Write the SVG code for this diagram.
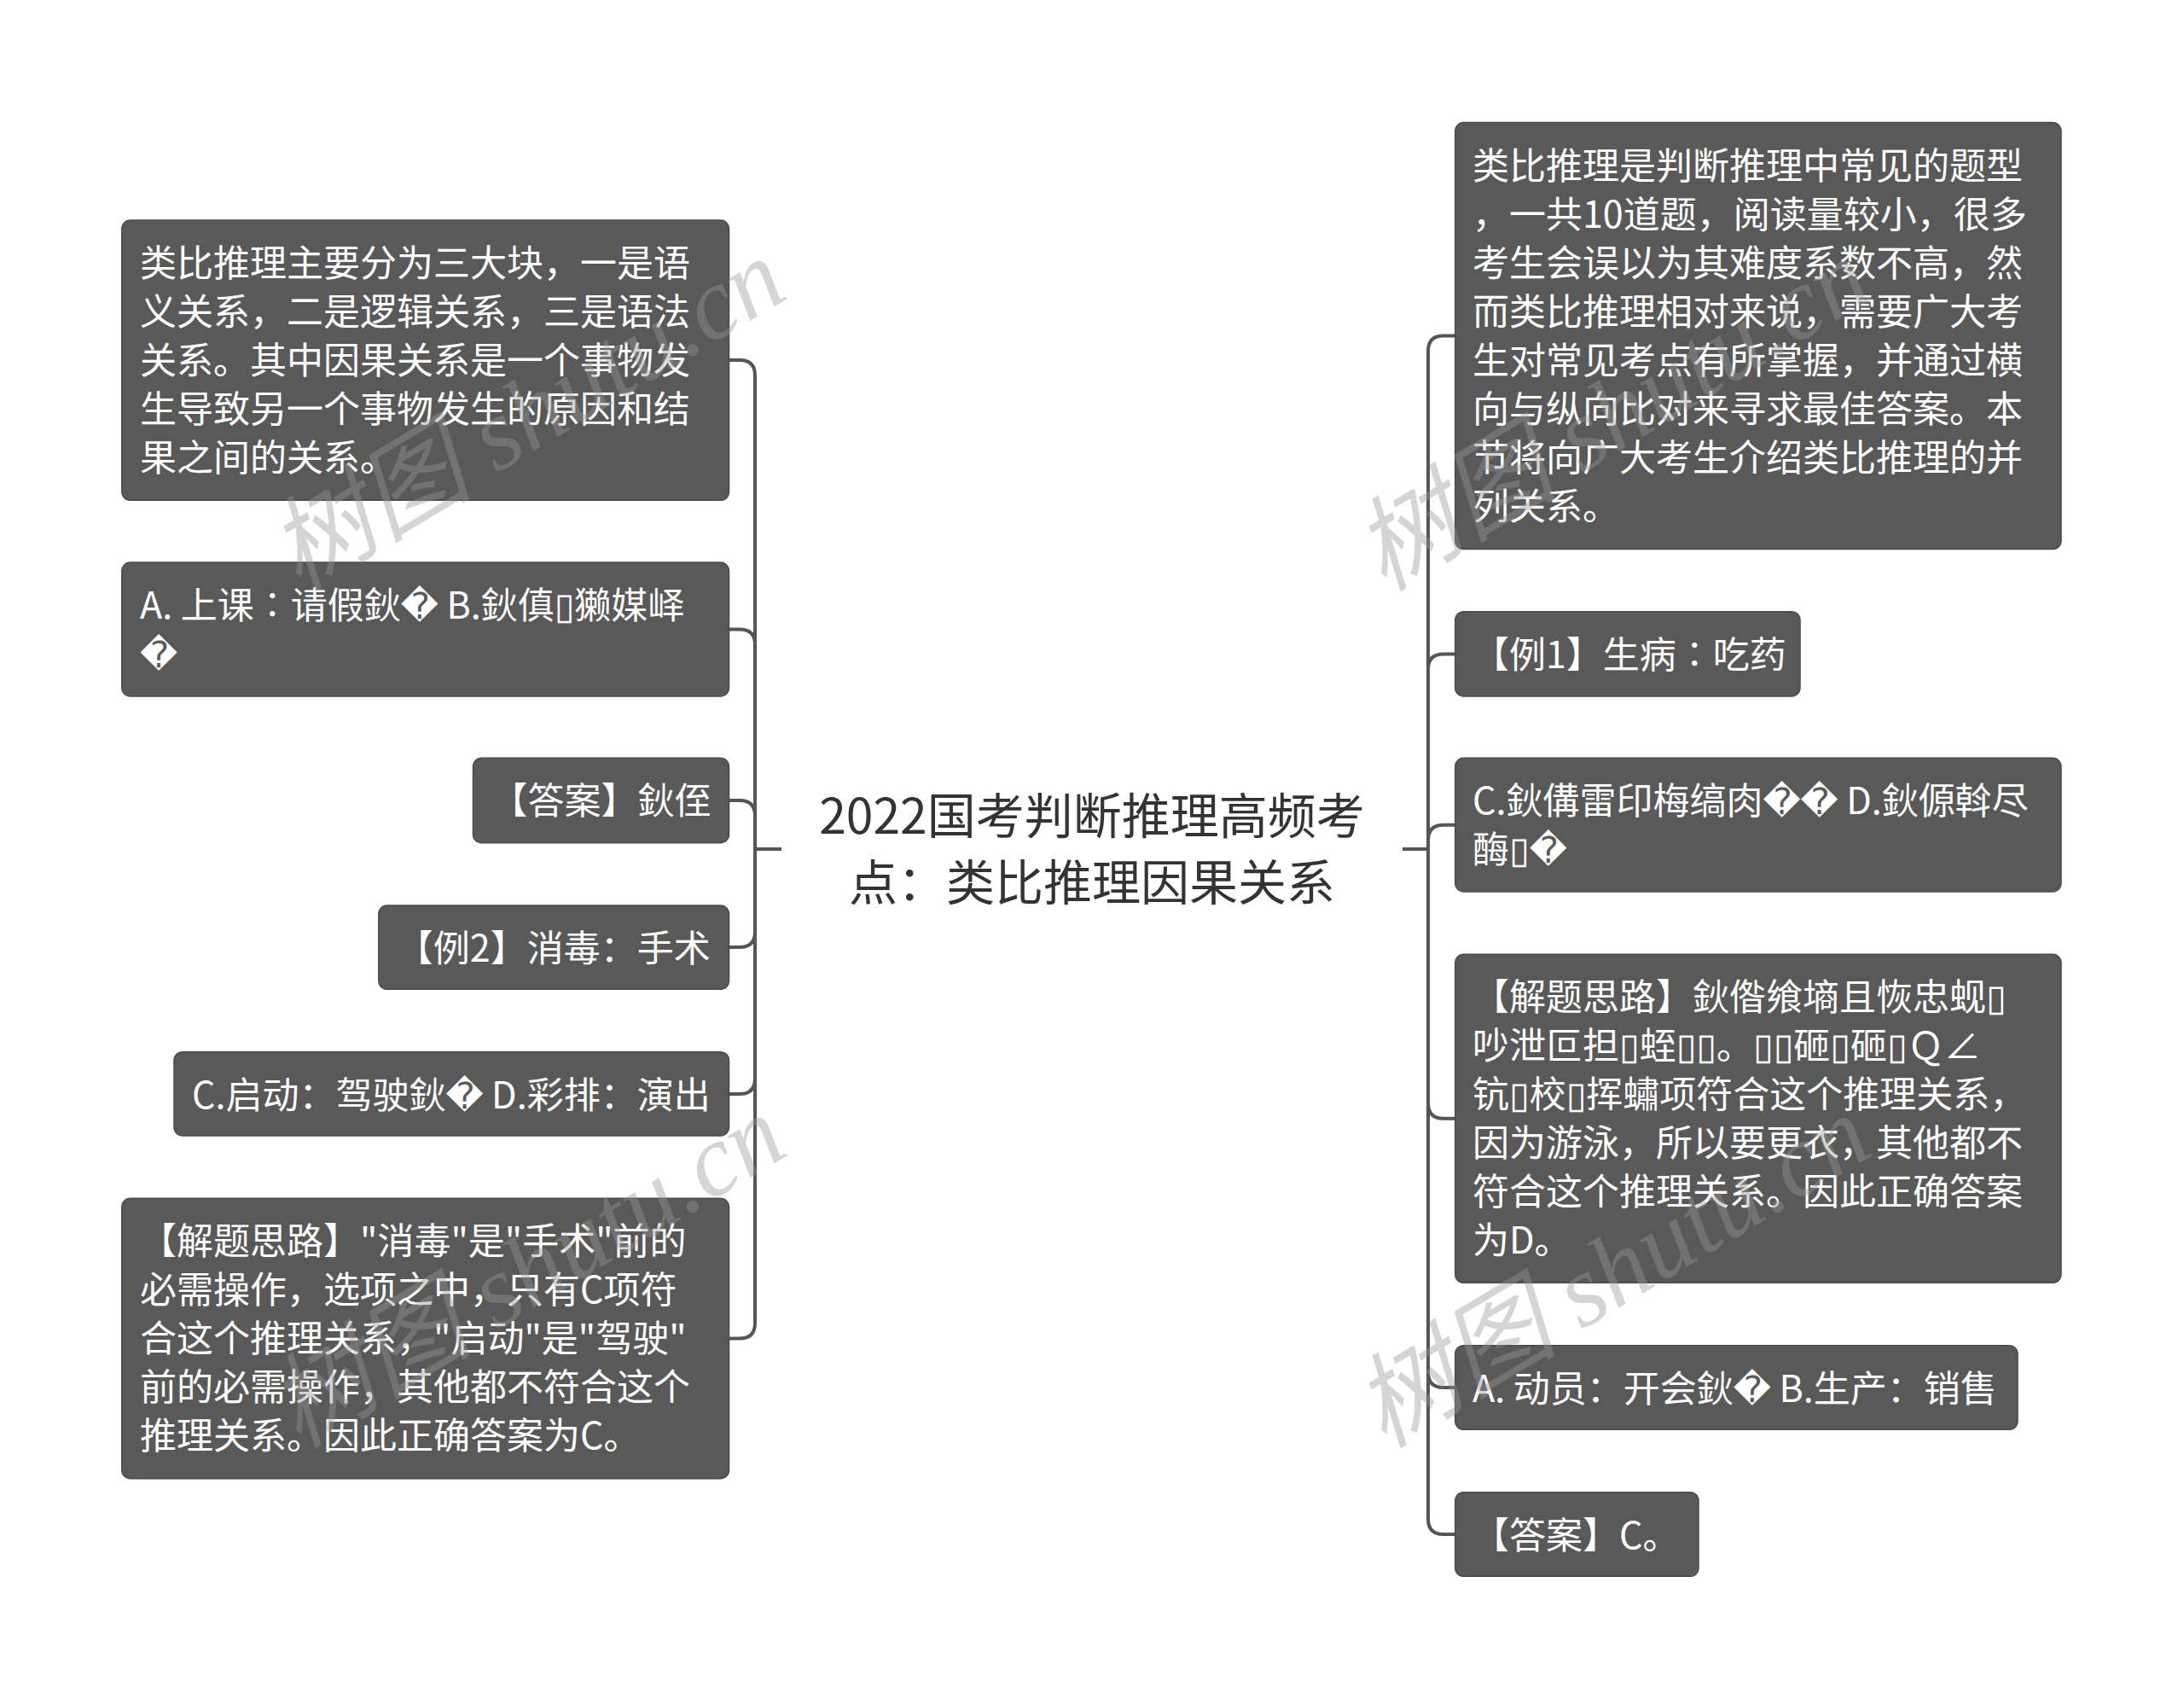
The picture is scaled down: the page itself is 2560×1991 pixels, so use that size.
<svg xmlns="http://www.w3.org/2000/svg" width="2560" height="1991" viewBox="0 0 2560 1991">
<style>
.bg{fill:#ffffff}
.node rect{fill:#595959;stroke:#4b4b4b;stroke-width:1.5}
.node text{fill:#ffffff;font-family:"Noto Sans CJK SC","Liberation Sans","DejaVu Sans",sans-serif;font-size:43px}
.topic text{fill:#333333;font-family:"Noto Sans CJK SC","Liberation Sans",sans-serif;font-size:57px;text-anchor:middle}
.conn path{fill:none;stroke:#555555;stroke-width:4;stroke-linecap:butt}
.wm text{fill:#999999;opacity:0.4;font-family:"Liberation Serif","Noto Sans CJK SC",serif;font-size:120px;font-style:italic}
</style>
<rect class="bg" x="0" y="0" width="2560" height="1991"/>

<g id="connectors" class="conn">
  <path d="M916 995 H885"/>
  <path d="M885 995 V440 Q885 422 867 422 H854.5"/>
  <path d="M885 995 V755.5 Q885 737.5 867 737.5 H854.5"/>
  <path d="M885 995 V956 Q885 938 867 938 H854.5"/>
  <path d="M885 995 V1092 Q885 1110 867 1110 H854.5"/>
  <path d="M885 995 V1264 Q885 1282 867 1282 H854.5"/>
  <path d="M885 995 V1550.5 Q885 1568.5 867 1568.5 H854.5"/>
  <path d="M1644 995 H1674"/>
  <path d="M1674 995 V411.6 Q1674 393.6 1692 393.6 H1705.7"/>
  <path d="M1674 995 V784.4 Q1674 766.4 1692 766.4 H1705.7"/>
  <path d="M1674 995 V984.7 Q1674 966.7 1692 966.7 H1705.7"/>
  <path d="M1674 995 V1292.8 Q1674 1310.8 1692 1310.8 H1705.7"/>
  <path d="M1674 995 V1608 Q1674 1626 1692 1626 H1705.7"/>
  <path d="M1674 995 V1780 Q1674 1798 1692 1798 H1705.7"/>
</g>

<g id="topic" class="topic">
  <text x="1280" y="977">2022国考判断推理高频考</text>
  <text x="1280" y="1055">点：类比推理因果关系</text>
</g>

<g id="left-1" class="node">
  <rect x="142.8" y="258" width="711.7" height="328.3" rx="10"/>
  <text x="164" y="324">类比推理主要分为三大块，一是语</text>
  <text x="164" y="381">义关系，二是逻辑关系，三是语法</text>
  <text x="164" y="438">关系。其中因果关系是一个事物发</text>
  <text x="164" y="495">生导致另一个事物发生的原因和结</text>
  <text x="164" y="552">果之间的关系。</text>
</g>
<g id="left-2" class="node">
  <rect x="142.8" y="659" width="711.7" height="157" rx="10"/>
  <text x="164" y="725">A. 上课∶请假鈥� B.鈥傎▯獭媒峄</text>
  <text x="164" y="782">�</text>
</g>
<g id="left-3" class="node">
  <rect x="554.5" y="888.3" width="300" height="99.4" rx="10"/>
  <text x="575.5" y="954.3">【答案】鈥侄</text>
</g>
<g id="left-4" class="node">
  <rect x="443.8" y="1061" width="410.7" height="98.3" rx="10"/>
  <text x="464.8" y="1127">【例2】消毒：手术</text>
</g>
<g id="left-5" class="node">
  <rect x="204" y="1232.7" width="650.5" height="98.3" rx="10"/>
  <text x="225" y="1298.7">C.启动：驾驶鈥� D.彩排：演出</text>
</g>
<g id="left-6" class="node">
  <rect x="142.8" y="1404.3" width="711.7" height="328.4" rx="10"/>
  <text x="164" y="1470.3">【解题思路】"消毒"是"手术"前的</text>
  <text x="164" y="1527.3">必需操作，选项之中，只有C项符</text>
  <text x="164" y="1584.3">合这个推理关系，"启动"是"驾驶"</text>
  <text x="164" y="1641.3">前的必需操作，其他都不符合这个</text>
  <text x="164" y="1698.3">推理关系。因此正确答案为C。</text>
</g>

<g id="right-1" class="node">
  <rect x="1705.7" y="143.6" width="710.3" height="500" rx="10"/>
  <text x="1726" y="209.6">类比推理是判断推理中常见的题型</text>
  <text x="1726" y="266.6">，一共10道题，阅读量较小，很多</text>
  <text x="1726" y="323.6">考生会误以为其难度系数不高，然</text>
  <text x="1726" y="380.6">而类比推理相对来说，需要广大考</text>
  <text x="1726" y="437.6">生对常见考点有所掌握，并通过横</text>
  <text x="1726" y="494.6">向与纵向比对来寻求最佳答案。本</text>
  <text x="1726" y="551.6">节将向广大考生介绍类比推理的并</text>
  <text x="1726" y="608.6">列关系。</text>
</g>
<g id="right-2" class="node">
  <rect x="1705.7" y="716.7" width="404.3" height="99.3" rx="10"/>
  <text x="1726" y="782.7">【例1】生病∶吃药</text>
</g>
<g id="right-3" class="node">
  <rect x="1705.7" y="888.3" width="710.3" height="156.7" rx="10"/>
  <text x="1726" y="954.3">C.鈥傋雷印梅缟肉�� D.鈥傆斡尽</text>
  <text x="1726" y="1011.3">酶▯�</text>
</g>
<g id="right-4" class="node">
  <rect x="1705.7" y="1118.3" width="710.3" height="385" rx="10"/>
  <text x="1726" y="1184.3">【解题思路】鈥偺飨墒且恢忠蚬▯</text>
  <text x="1726" y="1241.3">吵泄叵担▯蛭▯▯。▯▯砸▯砸▯Ｑ∠</text>
  <text x="1726" y="1298.3">钪▯校▯挥蟰项符合这个推理关系，</text>
  <text x="1726" y="1355.3">因为游泳，所以要更衣，其他都不</text>
  <text x="1726" y="1412.3">符合这个推理关系。因此正确答案</text>
  <text x="1726" y="1469.3">为D。</text>
</g>
<g id="right-5" class="node">
  <rect x="1705.7" y="1576.7" width="659.3" height="98.6" rx="10"/>
  <text x="1726" y="1642.7">A. 动员：开会鈥� B.生产：销售</text>
</g>
<g id="right-6" class="node">
  <rect x="1705.7" y="1748.7" width="285.3" height="98.6" rx="10"/>
  <text x="1726" y="1814.7">【答案】C。</text>
</g>

<g id="watermark" class="wm">
  <text x="350" y="694" transform="rotate(-31 350 694)">树图 shutu.cn</text>
  <text x="350" y="1698" transform="rotate(-31 350 1698)">树图 shutu.cn</text>
  <text x="1622" y="694" transform="rotate(-31 1622 694)">树图 shutu.cn</text>
  <text x="1622" y="1698" transform="rotate(-31 1622 1698)">树图 shutu.cn</text>
</g>
</svg>
